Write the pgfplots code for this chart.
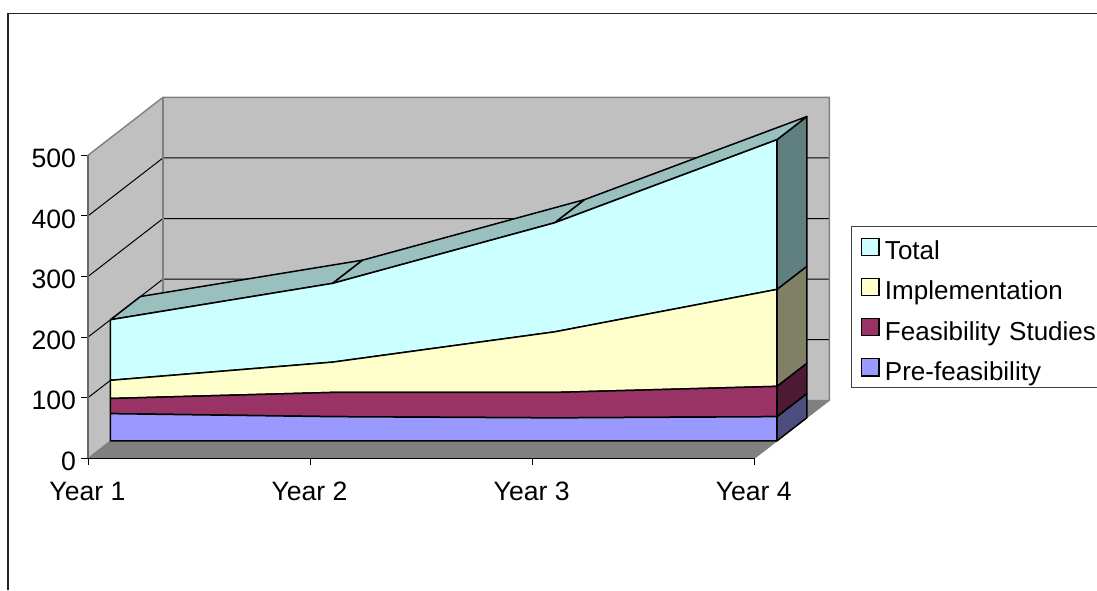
\documentclass[border=0pt]{standalone}
\usepackage{fontspec}
\setmainfont{Liberation Sans}
\usepackage{pgfplots}
\pgfplotsset{compat=1.18}
% x: category index, y: value, d: depth into the chart (0 = front of floor, 1 = back wall)
\newcommand\face[2]{\addplot[forget plot,line join=round,#1] table[row sep=\\,
   x expr=\thisrow{x}+0.33753*\thisrow{d},
   y expr=\thisrow{y}+95.7*\thisrow{d}] {x y d\\ #2};}
\definecolor{wall}{HTML}{C0C0C0}
\definecolor{wedge}{HTML}{808080}
\definecolor{floorc}{HTML}{808080}
\definecolor{totalc}{HTML}{CCFFFF}
\definecolor{totalt}{HTML}{99BFBF}
\definecolor{totals}{HTML}{608080}
\definecolor{implc}{HTML}{FFFFCC}
\definecolor{impls}{HTML}{808066}
\definecolor{feasc}{HTML}{993366}
\definecolor{feass}{HTML}{4D1A33}
\definecolor{prec}{HTML}{9999FF}
\definecolor{pres}{HTML}{4D4D80}
\tikzset{ar/.style={draw=black,line width=0.75pt}, gl/.style={draw=black,line width=0.5pt}}
\begin{document}
\begin{tikzpicture}
\useasboundingbox (-44pt,-65.85pt) rectangle (504.5pt,229.15pt);
\draw[line width=0.7pt,black!85] (-40pt,-65.85pt) -- (-40pt,222.4pt) -- (504.5pt,222.4pt);
\begin{axis}[
  at={(0pt,0pt)},anchor=south west,
  scale only axis,width=333.2pt,height=151.5pt,
  xmin=0,xmax=3,ymin=0,ymax=500,clip=false,
  axis x line*=bottom,axis y line*=left,
  axis on top,
  x axis line style={-,black,line width=0.7pt},
  y axis line style={-,black!60,line width=0.7pt},
  xtick={0,1,2,3},xticklabels={Year 1,Year 2,Year 3,Year 4},
  ytick={0,100,200,300,400,500},
  tick align=outside,major tick length=3.3pt,
  tick style={black,line width=0.5pt},
  /pgf/number format/assume math mode=true,
  tick label style={font=\fontsize{13.3pt}{15pt}\selectfont},
  xticklabel style={yshift=-5.2pt,xshift=-0.3pt},
  yticklabel style={xshift=0.8pt,yshift=-1.5pt},
  legend cell align=left,
  legend style={at={(axis cs:3.437,383)},anchor=north west,draw=black!75,line width=0.5pt,
    font=\fontsize{13pt}{15pt}\selectfont,inner xsep=4.6pt,inner ysep=3.3pt,
    row sep=6.7pt,
    nodes={inner xsep=2.7pt,inner ysep=0pt,text height=13.2pt,text depth=0.2pt,text width=112pt}},
  legend image code/.code={\draw[#1,line width=0.6pt] (0pt,-4.3pt) rectangle (8.6pt,4.3pt);},
]
% walls
\face{fill=wall,draw=none}{0 0 0\\ 0 500 0\\ 0 500 1\\ 0 0 1\\ 0 0 0\\}
\face{fill=wall,draw=none}{0 0 1\\ 3 0 1\\ 3 500 1\\ 0 500 1\\ 0 0 1\\}
% gridlines
\face{gl}{0 100 0\\ 0 100 1\\ 3 100 1\\}
\face{gl}{0 200 0\\ 0 200 1\\ 3 200 1\\}
\face{gl}{0 300 0\\ 0 300 1\\ 3 300 1\\}
\face{gl}{0 400 0\\ 0 400 1\\ 3 400 1\\}
% wall edges
\face{draw=wedge,line width=0.7pt}{0 500 0\\ 0 500 1\\ 3 500 1\\ 3 0 1\\}
\face{draw=wedge,line width=0.7pt}{0 0 1\\ 0 500 1\\}
% floor
\face{fill=floorc,draw=wedge,line width=0.5pt}{0 0 0\\ 3 0 0\\ 3 0 1\\ 0 0 1\\ 0 0 0\\}
% right faces at Year 4
\face{ar,fill=pres}{3 0 0.3\\ 3 40 0.3\\ 3 40 0.7\\ 3 0 0.7\\ 3 0 0.3\\}
\face{ar,fill=feass}{3 40 0.3\\ 3 90 0.3\\ 3 90 0.7\\ 3 40 0.7\\ 3 40 0.3\\}
\face{ar,fill=impls}{3 90 0.3\\ 3 250 0.3\\ 3 250 0.7\\ 3 90 0.7\\ 3 90 0.3\\}
\face{ar,fill=totals}{3 250 0.3\\ 3 497 0.3\\ 3 497 0.7\\ 3 250 0.7\\ 3 250 0.3\\}
% top faces of Total
\face{ar,fill=totalt}{0 200 0.3\\ 1 260 0.3\\ 1 260 0.7\\ 0 200 0.7\\ 0 200 0.3\\}
\face{ar,fill=totalt}{1 260 0.3\\ 2 360 0.3\\ 2 360 0.7\\ 1 260 0.7\\ 1 260 0.3\\}
\face{ar,fill=totalt}{2 360 0.3\\ 3 497 0.3\\ 3 497 0.7\\ 2 360 0.7\\ 2 360 0.3\\}
% front faces
\face{ar,fill=totalc}{0 200 0.3\\ 1 260 0.3\\ 2 360 0.3\\ 3 497 0.3\\ 3 250 0.3\\ 2 180 0.3\\ 1 130 0.3\\ 0 100 0.3\\ 0 200 0.3\\}
\face{ar,fill=implc}{0 100 0.3\\ 1 130 0.3\\ 2 180 0.3\\ 3 250 0.3\\ 3 90 0.3\\ 2 80 0.3\\ 1 80 0.3\\ 0 70 0.3\\ 0 100 0.3\\}
\face{ar,fill=feasc}{0 70 0.3\\ 1 80 0.3\\ 2 80 0.3\\ 3 90 0.3\\ 3 40 0.3\\ 2 38 0.3\\ 1 40 0.3\\ 0 45 0.3\\ 0 70 0.3\\}
\face{ar,fill=prec}{0 45 0.3\\ 1 40 0.3\\ 2 38 0.3\\ 3 40 0.3\\ 3 0 0.3\\ 0 0 0.3\\ 0 45 0.3\\}
\addlegendimage{fill=totalc,draw=black}\addlegendentry{Total}
\addlegendimage{fill=implc,draw=black}\addlegendentry{Implementation}
\addlegendimage{fill=feasc,draw=black}\addlegendentry{Feasibility Studies}
\addlegendimage{fill=prec,draw=black}\addlegendentry{Pre-feasibility}
\end{axis}
\end{tikzpicture}
\end{document}
